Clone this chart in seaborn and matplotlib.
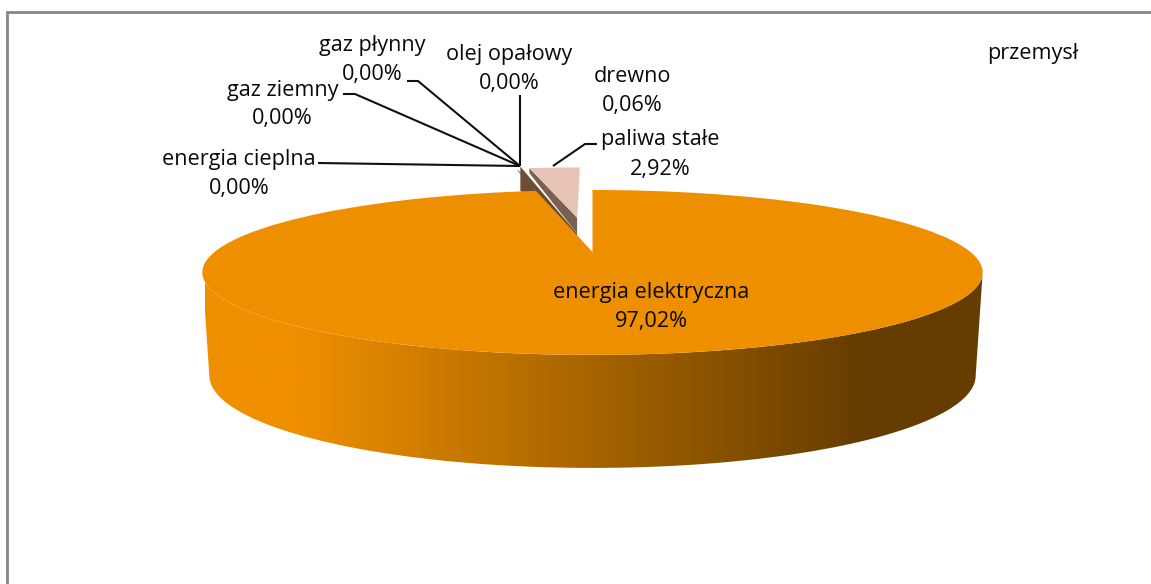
import numpy as np
import matplotlib
matplotlib.use("Agg")
import matplotlib.pyplot as plt
import seaborn as sns
from matplotlib.transforms import Transform
from matplotlib.colors import LinearSegmentedColormap
from matplotlib.patches import Polygon

categories = ["energia elektryczna", "energia cieplna", "gaz ziemny", "gaz płynny",
              "olej opałowy", "drewno", "paliwa stałe"]
shares = [97.02, 0.00, 0.00, 0.00, 0.00, 0.06, 2.92]
pulled = [0.0, 0.45, 0.45, 0.45, 0.45, 0.45, 0.5]
slice_colors = ["#EE8F00", "#8C6B55", "#8C6B55", "#8C6B55", "#8C6B55", "#6F4C35", "#E6C3B4"]

sns.set_theme(style="white")
plt.rcParams["font.family"] = ["Open Sans", "DejaVu Sans"]
W, H = 1151, 584
CX, CY, A, B, K = 592.5, 252.0, 378.0, 77.4, 0.248


class Perspective(Transform):
    input_dims = output_dims = 2

    def transform_non_affine(self, values):
        v = np.asarray(values, dtype=float)
        d = 1 + K * v[:, 1]
        return np.column_stack((CX + A * v[:, 0] / d, CY - B * v[:, 1] / d))


persp = Perspective()
fig = plt.figure(figsize=(W / 100, H / 100), dpi=100, facecolor="white")
ax = fig.add_axes([0, 0, 1, 1])
wedges, _ = ax.pie(shares, colors=sns.color_palette(slice_colors), explode=pulled,
                   startangle=90, counterclock=False, wedgeprops={"linewidth": 0})
ax.set_aspect("auto")
ax.set_xlim(0, W)
ax.set_ylim(H, 0)
ax.axis("off")
for w, z in zip(wedges, [5, 3, 3, 3, 3, 3, 4]):
    w.set_transform(persp + ax.transData)
    w.set_zorder(z)


def rim(center, radius, deg):
    t = np.radians(deg)
    pts = np.column_stack((center[0] + radius * np.cos(t), center[1] + radius * np.sin(t)))
    return persp.transform_non_affine(pts)


# side wall of the main slice, with a horizontal shade: near arc between the widest rim points
arc = rim(wedges[0].center, wedges[0].r, np.linspace(150, 390, 961))
top = arc[np.argmin(arc[:, 0]):np.argmax(arc[:, 0]) + 1]
mid_y = 272.0
xc = (top[:, 0].min() + top[:, 0].max()) / 2
low = np.column_stack((xc + (top[:, 0] - xc) * 383 / 390, 375 + (top[:, 1] - mid_y) * 93 / 83))
wall = Polygon(np.vstack((top, low[::-1])), closed=True, facecolor="none", edgecolor="none")
ax.add_patch(wall)
shade = LinearSegmentedColormap.from_list("wall", [(0, "#EE8F00"), (0.12, "#EE8F00"), (0.84, "#663D00"), (1, "#663D00")])
img = ax.imshow(np.linspace(0, 1, 400)[None, :], cmap=shade, extent=(205, 985, 480, 260),
                aspect="auto", zorder=1)
img.set_clip_path(wall)
ax.set_xlim(0, W)
ax.set_ylim(H, 0)

# cut faces of the pulled slices
pale, wood = wedges[6], wedges[5]
pale_apex = rim(pale.center, 0, np.array([0.0]))[0]
pale_out = rim(pale.center, pale.r, np.array([pale.theta2]))[0]
wood_out = rim(wood.center, wood.r, np.array([wood.theta2]))[0] + [3, -4]
ax.add_patch(Polygon([pale_out, pale_apex, pale_apex + [0, 16], pale_out + [0, 5]],
                     closed=True, facecolor="#7A6050", edgecolor="none", zorder=3))
ax.add_patch(Polygon([wood_out, pale_apex + [0, 16], pale_apex + [0, 40], wood_out + [0, 24]],
                     closed=True, facecolor="#6F4C35", edgecolor="none", zorder=2))

# frame of the chart area
ax.plot([7, 7, W], [H, 12, 12], color="#868686", lw=2, solid_joinstyle="miter", zorder=0)

# labels
FS = 15.6
def lab(x, y, s):
    ax.text(x, y + 1.5, s, ha="center", va="center", fontsize=FS, color="#0A0A0A", zorder=7)

pct = [f"{v:.2f}%".replace(".", ",") for v in shares]
lab(651, 291, categories[0]); lab(651, 320, pct[0])
lab(239, 158, categories[1]); lab(239, 187, pct[1])
lab(283, 89, categories[2]); lab(282, 117, pct[2])
lab(372, 44, categories[3]); lab(372, 73, pct[3])
lab(509, 53, categories[4]); lab(509, 82, pct[4])
lab(632, 75, categories[5]); lab(632, 104, pct[5])
lab(660, 138, categories[6]); lab(660, 168, pct[6])
lab(1033, 52, "przemysł")

# leader lines
hub = (520, 166)
for xs, ys in [([318, hub[0]], [163, hub[1]]),
               ([343, 355, hub[0]], [94, 94, hub[1]]),
               ([407, 418, hub[0]], [81, 81, hub[1]]),
               ([520, hub[0]], [95, hub[1]]),
               ([597, 585, 553], [144, 144, 166])]:
    ax.plot(xs, ys, color="#111111", lw=1.5, zorder=6, solid_capstyle="butt")

fig.savefig("out.png", dpi=100)
